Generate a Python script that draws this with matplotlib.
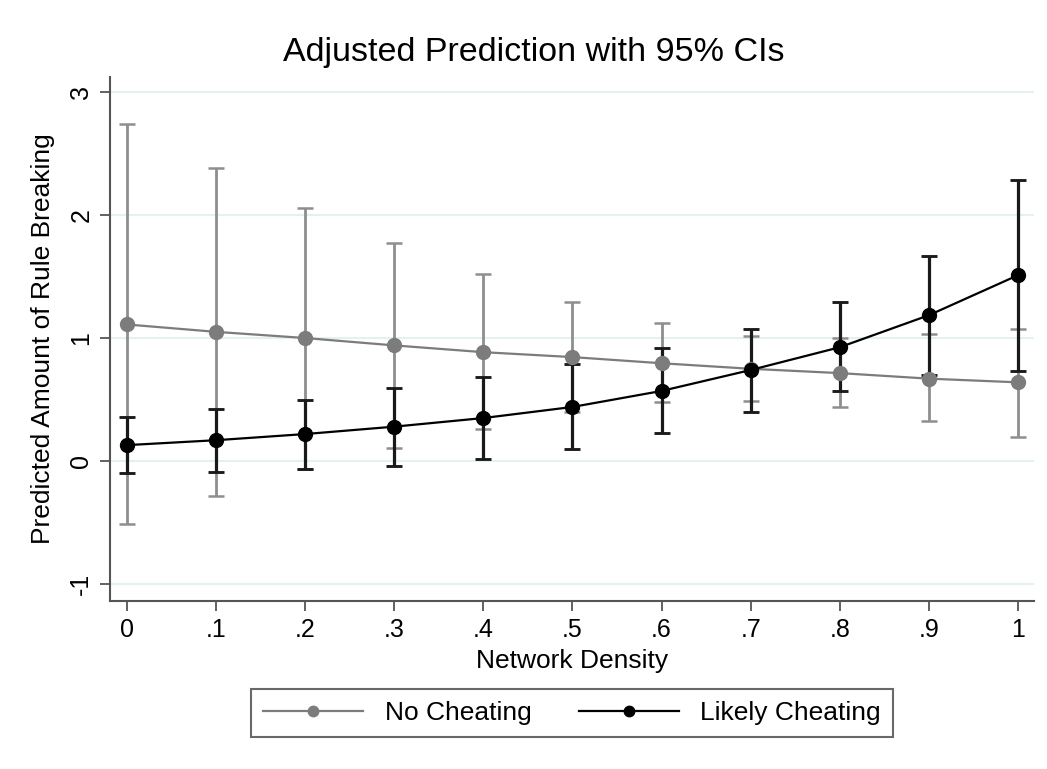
import numpy as np
import matplotlib.pyplot as plt

plt.rcParams['font.family'] = ['Liberation Sans', 'DejaVu Sans']

# valeurs
densite = [0, .1, .2, .3, .4, .5, .6, .7, .8, .9, 1]
xtick_labels = ['0', '.1', '.2', '.3', '.4', '.5', '.6', '.7', '.8', '.9', '1']

pas_triche = [1.11, 1.05, 1.00, 0.94, 0.885, 0.845, 0.795, 0.75, 0.715, 0.67, 0.64]
pas_triche_haut = [2.74, 2.38, 2.06, 1.77, 1.52, 1.29, 1.12, 1.02, 1.00, 1.03, 1.07]
pas_triche_bas = [-0.51, -0.28, -0.06, 0.11, 0.26, 0.40, 0.48, 0.49, 0.44, 0.33, 0.20]

triche = [0.13, 0.17, 0.22, 0.28, 0.35, 0.44, 0.57, 0.74, 0.925, 1.185, 1.51]
triche_haut = [0.36, 0.42, 0.50, 0.59, 0.68, 0.79, 0.92, 1.07, 1.29, 1.67, 2.28]
triche_bas = [-0.10, -0.09, -0.06, -0.04, 0.02, 0.10, 0.23, 0.40, 0.57, 0.70, 0.73]

W, H = 1047, 769
fig = plt.figure(figsize=(W / 100, H / 100), dpi=100)
ax = fig.add_axes([110 / W, (H - 601) / H, (1034 - 110) / W, (601 - 77) / H])

gris = '#7c7c7c'
gris_ic = '#8e8e8e'
noir = '#000000'

x = np.array(densite)
for moy, haut, bas, coul, coul_ic, lw_ic, lab in [
    (pas_triche, pas_triche_haut, pas_triche_bas, gris, gris_ic, 2.0, 'No Cheating'),
    (triche, triche_haut, triche_bas, noir, '#1a1a1a', 2.3, 'Likely Cheating'),
]:
    moy = np.array(moy)
    err = [moy - np.array(bas), np.array(haut) - moy]
    ax.errorbar(x, moy, yerr=err, fmt='none', ecolor=coul_ic, elinewidth=lw_ic,
                capsize=5.5, capthick=lw_ic * 0.9, zorder=2)
    ax.plot(x, moy, '-o', color=coul, lw=1.6, ms=10, zorder=3, label=lab)

ax.set_xlim(-0.019, 1.018)
ax.set_ylim(-1.136, 3.12)
ax.set_xticks(densite)
ax.set_xticklabels(xtick_labels, fontsize=18)
ax.set_yticks([-1, 0, 1, 2, 3])
ax.set_yticklabels(['-1', '0', '1', '2', '3'], fontsize=18, rotation=90, va='center')
ax.grid(axis='y', color='#e6eff1', lw=1.5)
ax.set_axisbelow(True)
for s in ['top', 'right']:
    ax.spines[s].set_visible(False)
for s in ['left', 'bottom']:
    ax.spines[s].set_color('#555555')
    ax.spines[s].set_linewidth(1.5)
ax.tick_params(direction='out', length=7, width=1.3, color='#555555', pad=5)

# titre centré sur la figure comme dans Stata
fig.text(534 / W, 1 - 52 / H, 'Adjusted Prediction with 95% CIs', fontsize=24.5,
         ha='center', va='center')
ax.set_xlabel('Network Density', fontsize=19, labelpad=5)
ax.set_ylabel('Predicted Amount of Rule Breaking', fontsize=19, labelpad=10)

leg = fig.legend(loc='center', bbox_to_anchor=(572 / W, 1 - 713 / H), ncol=2,
                 fontsize=19, frameon=True, fancybox=False, edgecolor='#444444',
                 handlelength=3.8, markerscale=0.75, columnspacing=1.8,
                 borderpad=0.45)
leg.get_frame().set_linewidth(1.5)

fig.savefig('out.png', dpi=100, facecolor='white')
